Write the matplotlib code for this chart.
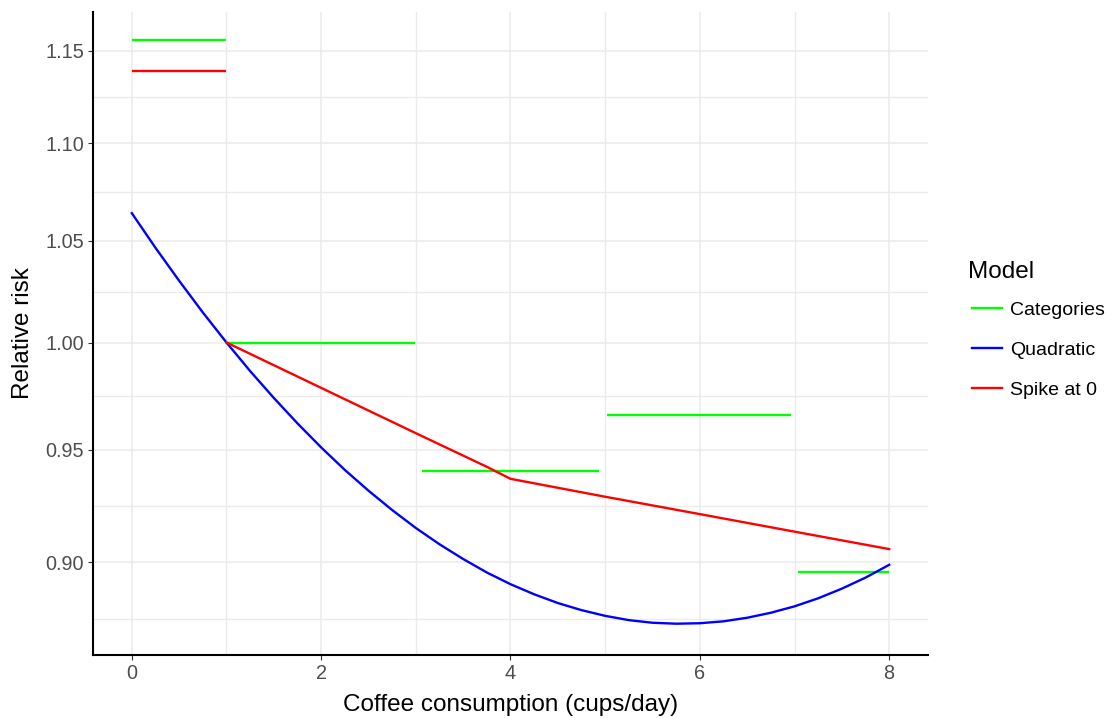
import numpy as np
import matplotlib.pyplot as plt
from matplotlib.ticker import FixedLocator, FormatStrFormatter, NullFormatter
from matplotlib.lines import Line2D

plt.rcParams['font.family'] = ['Liberation Sans', 'DejaVu Sans']

# Categories model: one step per consumption group (start, end, RR)
cat_start = [0.0, 1.0, 3.07, 5.02, 7.04]
cat_end = [1.0, 2.99, 4.93, 6.96, 8.0]
cat_rr = [1.1557, 1.000, 0.9404, 0.9658, 0.8959]

# Quadratic model
quad_x = [0, 0.25, 0.5, 0.75, 1, 1.25, 1.5, 1.75, 2, 2.25, 2.5, 2.75, 3,
          3.25, 3.5, 3.75, 4, 4.25, 4.5, 4.75, 5, 5.25, 5.5, 5.75, 6,
          6.25, 6.5, 6.75, 7, 7.25, 7.5, 7.75, 8]
quad_rr = [1.0639, 1.0464, 1.0300, 1.0145, 1.000, 0.9864, 0.9738, 0.9620,
           0.9510, 0.9408, 0.9315, 0.9229, 0.9150, 0.9079, 0.9015, 0.8957,
           0.8907, 0.8864, 0.8827, 0.8797, 0.8773, 0.8755, 0.8744, 0.8740,
           0.8742, 0.8750, 0.8765, 0.8786, 0.8813, 0.8847, 0.8888, 0.8935,
           0.8990]

# Spike at 0 model: separate level for non-drinkers, spline for drinkers
spike0_x = [0, 1]
spike0_rr = [1.139, 1.139]
spike_x = [1, 2, 3, 3.75, 4, 5, 6, 7, 8]
spike_rr = [1.000, 0.9785, 0.9575, 0.9422, 0.9368, 0.9288, 0.9211, 0.9134, 0.9058]

y_breaks = [0.90, 0.95, 1.00, 1.05, 1.10, 1.15]
x_breaks = [0, 2, 4, 6, 8]

GREEN, BLUE, RED = '#00FF00', '#0000FF', '#FF0000'
LW = 1.7

fig = plt.figure(figsize=(11.14, 7.18), dpi=100)
ax = fig.add_axes([93 / 1114, 1 - 655 / 718, (928 - 93) / 1114, (655 - 12) / 718])

for s, e, r in zip(cat_start, cat_end, cat_rr):
    ax.plot([s, e], [r, r], color=GREEN, lw=LW, solid_capstyle='butt', zorder=3)
ax.plot(quad_x, quad_rr, color=BLUE, lw=LW, zorder=4)
ax.plot(spike0_x, spike0_rr, color=RED, lw=LW, solid_capstyle='butt', zorder=5)
ax.plot(spike_x, spike_rr, color=RED, lw=LW, zorder=5)

ax.set_yscale('log')
ax.set_xlim(-0.41, 8.41)
ax.set_ylim(0.8610, 1.1715)

# minor breaks halfway between majors on the log scale
lb = np.log(y_breaks)
lb = np.concatenate([[lb[0] - (lb[1] - lb[0])], lb, [lb[-1] + (lb[-1] - lb[-2])]])
y_minor = np.exp((lb[:-1] + lb[1:]) / 2)

ax.yaxis.set_major_locator(FixedLocator(y_breaks))
ax.yaxis.set_major_formatter(FormatStrFormatter('%.2f'))
ax.yaxis.set_minor_locator(FixedLocator(y_minor))
ax.yaxis.set_minor_formatter(NullFormatter())
ax.xaxis.set_major_locator(FixedLocator(x_breaks))
ax.xaxis.set_minor_locator(FixedLocator([1, 3, 5, 7]))

ax.grid(True, which='major', color='#EBEBEB', lw=1.1, zorder=0)
ax.grid(True, which='minor', color='#EBEBEB', lw=1.0, zorder=0)
ax.set_axisbelow(True)

for side in ['top', 'right']:
    ax.spines[side].set_visible(False)
for side in ['left', 'bottom']:
    ax.spines[side].set_linewidth(1.5)
    ax.spines[side].set_color('black')

ax.tick_params(which='major', length=3.5, width=0.8, color='#333333',
               labelcolor='#4D4D4D', labelsize=14.3, pad=3)
ax.tick_params(which='minor', length=0)

ax.set_xlabel('Coffee consumption (cups/day)', fontsize=17.5, labelpad=8)
ax.set_ylabel('Relative risk', fontsize=17.5, labelpad=8)

handles = [Line2D([], [], color=c, lw=LW) for c in (GREEN, BLUE, RED)]
leg = fig.legend(handles, ['Categories', 'Quadratic', 'Spike at 0'],
                 title='Model', loc='center left',
                 bbox_to_anchor=(962 / 1114, 1 - 330 / 718),
                 frameon=False, fontsize=14, title_fontsize=17.5,
                 handlelength=1.55, handletextpad=0.4, labelspacing=1.15,
                 borderpad=0, alignment='left')
leg._legend_box.sep = 13
leg.get_title().set_position((-4, 0))

fig.savefig('out.png', dpi=100)
